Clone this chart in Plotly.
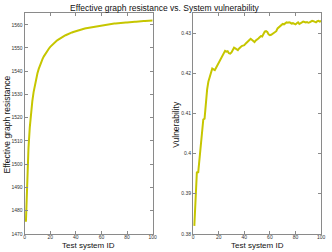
import plotly.graph_objects as go

test_ids = list(range(1, 101))

resistance = [
    1475.2, 1494.5, 1507.0, 1515.7, 1522.1, 1527.1, 1531.0, 1534.2, 1536.8, 1539.1,
    1541.0, 1542.6, 1544.0, 1545.3, 1546.4, 1547.4, 1548.3, 1549.1, 1549.8, 1550.5,
    1551.1, 1551.7, 1552.2, 1552.7, 1553.1, 1553.5, 1553.9, 1554.3, 1554.6, 1554.9,
    1555.2, 1555.5, 1555.8, 1556.0, 1556.3, 1556.5, 1556.7, 1556.9, 1557.1, 1557.3,
    1557.5, 1557.6, 1557.8, 1558.0, 1558.1, 1558.3, 1558.4, 1558.5, 1558.6, 1558.8,
    1558.9, 1559.0, 1559.1, 1559.2, 1559.3, 1559.4, 1559.5, 1559.6, 1559.7, 1559.8,
    1559.8, 1559.9, 1560.0, 1560.1, 1560.1, 1560.2, 1560.3, 1560.4, 1560.4, 1560.5,
    1560.5, 1560.6, 1560.7, 1560.7, 1560.8, 1560.8, 1560.9, 1560.9, 1561.0, 1561.0,
    1561.1, 1561.1, 1561.2, 1561.2, 1561.3, 1561.3, 1561.3, 1561.4, 1561.4, 1561.5,
    1561.5, 1561.5, 1561.6, 1561.6, 1561.6, 1561.7, 1561.7, 1561.7, 1561.8, 1561.8,
]

vulnerability = [
    0.3820, 0.3890, 0.3955, 0.3952, 0.3990, 0.4030, 0.4065, 0.4085, 0.4087, 0.4130,
    0.4160, 0.4180, 0.4190, 0.4205, 0.4212, 0.4210, 0.4208, 0.4214, 0.4220, 0.4226,
    0.4232, 0.4238, 0.4245, 0.4253, 0.4256, 0.4254, 0.4255, 0.4250, 0.4249, 0.4252,
    0.4260, 0.4264, 0.4262, 0.4260, 0.4258, 0.4262, 0.4266, 0.4268, 0.4269, 0.4270,
    0.4274, 0.4278, 0.4279, 0.4283, 0.4286, 0.4284, 0.4280, 0.4278, 0.4282, 0.4286,
    0.4287, 0.4290, 0.4293, 0.4292, 0.4300, 0.4304, 0.4305, 0.4303, 0.4297, 0.4295,
    0.4296, 0.4298, 0.4300, 0.4301, 0.4305, 0.4312, 0.4315, 0.4318, 0.4320, 0.4323,
    0.4322, 0.4325, 0.4327, 0.4326, 0.4327, 0.4326, 0.4324, 0.4325, 0.4324, 0.4322,
    0.4325, 0.4327, 0.4323, 0.4325, 0.4327, 0.4329, 0.4328, 0.4327, 0.4328, 0.4326,
    0.4327, 0.4329, 0.4331, 0.4330, 0.4328, 0.4327, 0.4330, 0.4331, 0.4329, 0.4331,
]

x_ticks = [0, 20, 40, 60, 80, 100]
res_ticks = [1470, 1480, 1490, 1500, 1510, 1520, 1530, 1540, 1550, 1560]
vul_ticks = [0.38, 0.39, 0.40, 0.41, 0.42, 0.43]

title_text = "Effective graph resistance vs. System vulnerability"
x_label = "Test system ID"
y1_label = "Effective graph resistance"
y2_label = "Vulnerability"

LINE = "#c6c600"
AX = "#8a8a8a"
FONT = "Liberation Sans, Arial, sans-serif"

fig = go.Figure()
fig.add_trace(go.Scatter(x=test_ids, y=resistance, mode="lines",
                         line=dict(color=LINE, width=2), xaxis="x", yaxis="y"))
fig.add_trace(go.Scatter(x=test_ids, y=vulnerability, mode="lines",
                         line=dict(color=LINE, width=2), xaxis="x2", yaxis="y2"))

common = dict(showgrid=False, zeroline=False, showline=True, linecolor=AX, linewidth=1,
              mirror="allticks", ticks="inside", ticklen=3, tickcolor=AX, tickwidth=1,
              tickfont=dict(size=5, color="#333333", family=FONT))
xcommon = dict(common, ticklabelstandoff=-2)

ydom = [0.0607, 0.9472]
fig.update_layout(
    width=332, height=252,
    margin=dict(l=0, r=0, t=0, b=0),
    paper_bgcolor="white", plot_bgcolor="white",
    showlegend=False,
    font=dict(family=FONT, color="#222222"),
    xaxis=dict(domain=[0.0723, 0.4639], range=[0, 100], tickvals=x_ticks, anchor="y", **xcommon),
    yaxis=dict(domain=ydom, range=[1470, 1565], tickvals=res_ticks, anchor="x", **common),
    xaxis2=dict(domain=[0.5873, 0.9789], range=[0, 100], tickvals=x_ticks, anchor="y2", **xcommon),
    yaxis2=dict(domain=ydom, range=[0.38, 0.435], tickvals=vul_ticks, anchor="x2", **common),
    annotations=[
        dict(text=title_text, x=0.5, y=1 - 8 / 252, xref="paper", yref="paper",
             showarrow=False, font=dict(size=8.5, color="#111111"), xanchor="center", yanchor="middle"),
        dict(text=x_label, x=(0.0723 + 0.4639) / 2, y=1 - 248 / 252, xref="paper", yref="paper",
             showarrow=False, font=dict(size=8, color="#111111"), xanchor="center", yanchor="middle",
             borderpad=0),
        dict(text=x_label, x=(0.5873 + 0.9789) / 2, y=1 - 248 / 252, xref="paper", yref="paper",
             showarrow=False, font=dict(size=8, color="#111111"), xanchor="center", yanchor="middle",
             borderpad=0),
        dict(text=y1_label, x=6 / 332, y=0.5, xref="paper", yref="paper", textangle=-90,
             showarrow=False, font=dict(size=8.5, color="#111111"), xanchor="center", yanchor="middle"),
        dict(text=y2_label, x=177 / 332, y=0.5, xref="paper", yref="paper", textangle=-90,
             showarrow=False, font=dict(size=8.5, color="#111111"), xanchor="center", yanchor="middle"),
    ],
)

fig.write_html("out.html", config={"displayModeBar": False},
               post_script="document.body.style.margin='0';document.body.style.padding='0';")
